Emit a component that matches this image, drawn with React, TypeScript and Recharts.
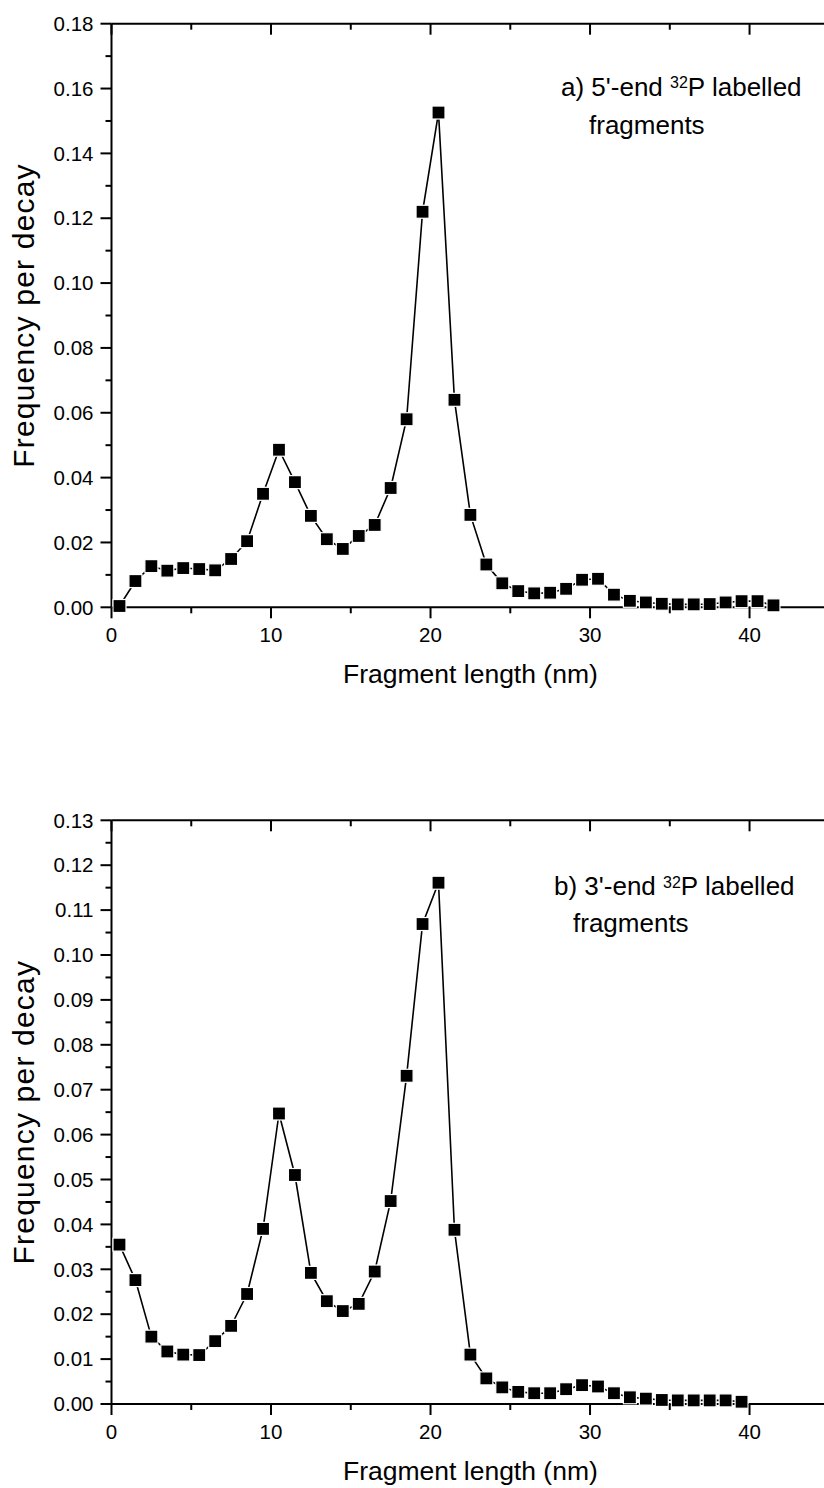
import { Line, LineChart, XAxis, YAxis } from 'recharts'

// fragment lengths (bin centres, nm)
const lengthsA = [
  0.5, 1.5, 2.5, 3.5, 4.5, 5.5, 6.5, 7.5, 8.5, 9.5, 10.5, 11.5, 12.5, 13.5,
  14.5, 15.5, 16.5, 17.5, 18.5, 19.5, 20.5, 21.5, 22.5, 23.5, 24.5, 25.5, 26.5,
  27.5, 28.5, 29.5, 30.5, 31.5, 32.5, 33.5, 34.5, 35.5, 36.5, 37.5, 38.5, 39.5,
  40.5, 41.5,
]
// a) 5'-end labelled
const freqA = [
  0.0004, 0.0081, 0.0127, 0.0113, 0.0121, 0.0118, 0.0114, 0.0149, 0.0204,
  0.035, 0.0486, 0.0386, 0.0282, 0.021, 0.018, 0.022, 0.0254, 0.0368, 0.058,
  0.122, 0.1526, 0.064, 0.0285, 0.0132, 0.0074, 0.005, 0.0043, 0.0045, 0.0057,
  0.0085, 0.0088, 0.0039, 0.002, 0.0015, 0.0011, 0.0009, 0.0009, 0.001, 0.0015,
  0.0019, 0.0019, 0.0006,
]

const lengthsB = [
  0.5, 1.5, 2.5, 3.5, 4.5, 5.5, 6.5, 7.5, 8.5, 9.5, 10.5, 11.5, 12.5, 13.5,
  14.5, 15.5, 16.5, 17.5, 18.5, 19.5, 20.5, 21.5, 22.5, 23.5, 24.5, 25.5, 26.5,
  27.5, 28.5, 29.5, 30.5, 31.5, 32.5, 33.5, 34.5, 35.5, 36.5, 37.5, 38.5, 39.5,
]
// b) 3'-end labelled
const freqB = [
  0.0355, 0.0276, 0.015, 0.0117, 0.011, 0.0109, 0.014, 0.0174, 0.0245, 0.039,
  0.0647, 0.051, 0.0292, 0.0229, 0.0207, 0.0223, 0.0295, 0.0452, 0.0731,
  0.1069, 0.1161, 0.0388, 0.011, 0.0057, 0.0037, 0.0027, 0.0024, 0.0024,
  0.0033, 0.0042, 0.0039, 0.0024, 0.0015, 0.0012, 0.0009, 0.0008, 0.0008,
  0.0008, 0.0008, 0.0005,
]

const xTicks = [0, 5, 10, 15, 20, 25, 30, 35, 40, 45]
const yTicksA = [
  0, 0.01, 0.02, 0.03, 0.04, 0.05, 0.06, 0.07, 0.08, 0.09, 0.1, 0.11, 0.12,
  0.13, 0.14, 0.15, 0.16, 0.17, 0.18,
]
const yTicksB = [
  0, 0.005, 0.01, 0.015, 0.02, 0.025, 0.03, 0.035, 0.04, 0.045, 0.05, 0.055,
  0.06, 0.065, 0.07, 0.075, 0.08, 0.085, 0.09, 0.095, 0.1, 0.105, 0.11, 0.115,
  0.12, 0.125, 0.13,
]

const FONT = '"Liberation Sans", Arial, sans-serif'
const AXIS = { stroke: '#000', strokeWidth: 2 }

const isMajorX = (v: number) => Math.round(v) % 10 === 0
const isMajorA = (v: number) => Math.round(v * 100) % 2 === 0
const isMajorB = (v: number) => Math.round(v * 1000) % 10 === 0

// Origin-style ticks: major/minor, labels only on the left and bottom
function makeTick(side: 'left' | 'right' | 'top' | 'bottom', isMajor: (v: number) => boolean) {
  return (props: any) => {
    const { x, y, payload } = props
    const v = payload.value as number
    const major = isMajor(v)
    const len = major ? 11 : 6
    if (side === 'left') {
      return (
        <g>
          <line x1={x} x2={x - len} y1={y} y2={y} stroke="#000" strokeWidth={2} />
          {major && (
            <text x={x - 18} y={y + 7.2} textAnchor="end" fontSize={20.5} fontFamily={FONT} fill="#000">
              {v.toFixed(2)}
            </text>
          )}
        </g>
      )
    }
    if (side === 'right') {
      return <line x1={x} x2={x - len} y1={y} y2={y} stroke="#000" strokeWidth={2} />
    }
    if (side === 'top') {
      return <line x1={x} x2={x} y1={y} y2={y + len} stroke="#000" strokeWidth={2} />
    }
    return (
      <g>
        <line x1={x} x2={x} y1={y} y2={y + len} stroke="#000" strokeWidth={2} />
        {major && (
          <text x={x} y={y + 34.5} textAnchor="middle" fontSize={20.5} fontFamily={FONT} fill="#000">
            {v}
          </text>
        )}
      </g>
    )
  }
}

const squareDot = (props: any) => {
  const { cx, cy, index } = props
  return (
    <rect
      key={`sq-${index}`}
      x={cx - 6.5}
      y={cy - 6.5}
      width={13}
      height={13}
      fill="#000"
      stroke="#fff"
      strokeWidth={1.2}
    />
  )
}

interface PanelProps {
  lengths: number[]
  freq: number[]
  yMax: number
  yTicks: number[]
  isMajorY: (v: number) => boolean
  height: number
  marginTop: number
  marginBottom: number
}

function Panel({ lengths, freq, yMax, yTicks, isMajorY, height, marginTop, marginBottom }: PanelProps) {
  const data = lengths.map((x, i) => ({ x, y: freq[i] }))
  return (
    <LineChart
      width={840}
      height={height}
      data={data}
      margin={{ top: marginTop, right: 9.7, bottom: marginBottom, left: 11.5 }}
      style={{ display: 'block' }}
    >
      <XAxis
        dataKey="x"
        type="number"
        domain={[0, 45]}
        ticks={xTicks}
        interval={0}
        height={50}
        tickSize={0}
        tickMargin={0}
        axisLine={AXIS}
        tickLine={false}
        tick={makeTick('bottom', isMajorX)}
        label={{
          value: 'Fragment length (nm)',
          position: 'bottom',
          offset: 7,
          fontSize: 26.5,
          fontFamily: FONT,
          fill: '#000',
        }}
      />
      <XAxis
        xAxisId="top"
        orientation="top"
        dataKey="x"
        type="number"
        domain={[0, 45]}
        ticks={xTicks}
        interval={0}
        height={1}
        tickSize={0}
        tickMargin={0}
        axisLine={AXIS}
        tickLine={false}
        tick={makeTick('top', isMajorX)}
      />
      <YAxis
        type="number"
        domain={[0, yMax]}
        ticks={yTicks}
        interval={0}
        width={100}
        tickSize={0}
        tickMargin={0}
        axisLine={AXIS}
        tickLine={false}
        tick={makeTick('left', isMajorY)}
        label={{
          value: 'Frequency per decay',
          angle: -90,
          position: 'insideLeft',
          offset: 12,
          textAnchor: 'middle',
          fontSize: 30,
          fontFamily: FONT,
          fill: '#000',
          style: { textAnchor: 'middle', letterSpacing: 1.2 },
        }}
      />
      <YAxis
        yAxisId="right"
        orientation="right"
        type="number"
        domain={[0, yMax]}
        ticks={yTicks}
        interval={0}
        width={1}
        tickSize={0}
        tickMargin={0}
        axisLine={AXIS}
        tickLine={false}
        tick={makeTick('right', isMajorY)}
      />
      <Line
        dataKey="y"
        stroke="#000"
        strokeWidth={1.6}
        dot={squareDot}
        activeDot={false}
        isAnimationActive={false}
      />
    </LineChart>
  )
}

export default function App() {
  return (
    <div
      style={{
        position: 'absolute',
        left: 0,
        top: 0,
        width: 824,
        height: 1488,
        overflow: 'hidden',
        background: '#fff',
        fontFamily: FONT,
      }}
    >
      <Panel
        lengths={lengthsA}
        freq={freqA}
        yMax={0.18}
        yTicks={yTicksA}
        isMajorY={isMajorA}
        height={700}
        marginTop={22.7}
        marginBottom={42.7}
      />
      <Panel
        lengths={lengthsB}
        freq={freqB}
        yMax={0.13}
        yTicks={yTicksB}
        isMajorY={isMajorB}
        height={788}
        marginTop={119.3}
        marginBottom={34}
      />
      <svg
        width={824}
        height={1488}
        style={{ position: 'absolute', left: 0, top: 0, pointerEvents: 'none' }}
        fontFamily={FONT}
        fill="#000"
      >
        <text x={561} y={95.7} fontSize={26}>
          a) 5'-end{' '}
          <tspan dy={-7.5} fontSize={16}>32</tspan>
          <tspan dy={7.5}>P labelled</tspan>
        </text>
        <text x={589} y={134} fontSize={26}>
          fragments
        </text>
        <text x={554} y={895} fontSize={26}>
          b) 3'-end{' '}
          <tspan dy={-7.5} fontSize={16}>32</tspan>
          <tspan dy={7.5}>P labelled</tspan>
        </text>
        <text x={573} y={932} fontSize={26}>
          fragments
        </text>
      </svg>
    </div>
  )
}
